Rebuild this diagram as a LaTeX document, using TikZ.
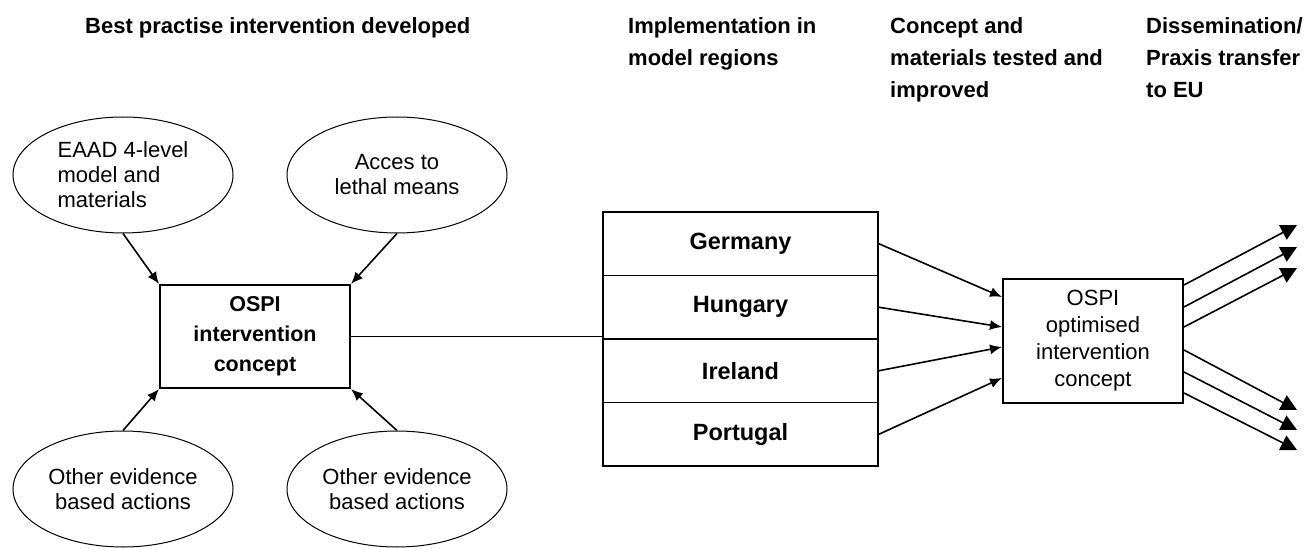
\documentclass[tikz,border=0pt]{standalone}
\usepackage{fontspec}
\setmainfont{Liberation Sans}
\usetikzlibrary{shapes.geometric,arrows.meta}

\tikzset{
  heading/.style={anchor=north west, align=left, inner sep=0pt,
    font=\bfseries\fontsize{22}{32}\selectfont},
  bubble/.style={draw, ellipse, line width=1pt, minimum width=220pt,
    minimum height=116pt, inner sep=0pt, font=\fontsize{22}{25}\selectfont},
  box/.style={draw, line width=2pt, inner sep=0pt},
  country/.style={draw, line width=1.8pt, minimum width=275pt,
    minimum height=63.5pt, inner sep=0pt, font=\bfseries\fontsize{23.5}{28}\selectfont},
  arr/.style={-{Latex[length=12pt,width=10pt]}, line width=1.6pt},
  bigarr/.style={-{Triangle[length=16pt,width=16pt]}, line width=1.6pt},
}

\begin{document}
\begin{tikzpicture}[x=1pt, y=-1pt]
  \useasboundingbox (0,0) rectangle (1304,548);

  \node[heading] (best) at (85,17) {Best practise intervention developed};
  \node[heading] (impl) at (628,17) {Implementation in\\model regions};
  \node[heading] (test) at (890,17) {Concept and\\materials tested and\\improved};
  \node[heading] (diss) at (1146,17) {Dissemination/\\Praxis transfer\\to EU};

  \node[bubble, align=left] (eaad) at (123,175) {EAAD 4-level\\model and\\materials};
  \node[bubble, align=center] (lethal) at (397,175) {Acces to\\lethal means};
  \node[bubble, align=center] (otherl) at (123,489) {Other evidence\\based actions};
  \node[bubble, align=center] (otherr) at (397,489) {Other evidence\\based actions};

  \node[box, minimum width=190pt, minimum height=103pt, align=center,
    font=\bfseries\fontsize{21.5}{30}\selectfont] (ospi) at (255,336.5)
    {OSPI\\intervention\\concept};

  \draw[arr] (eaad.south) -- (ospi.north west);
  \draw[arr] (lethal.south) -- (ospi.north east);
  \draw[arr] (otherl.north) -- (ospi.south west);
  \draw[arr] (otherr.north) -- (ospi.south east);

  \node[country] (ger) at (740.5,243.75) {Germany};
  \node[country] (hun) at (740.5,307.25) {Hungary};
  \node[country] (ire) at (740.5,370.75) {Ireland};
  \node[country] (por) at (740.5,434.25) {Portugal};

  \draw[line width=1.6pt] (ospi.east) -- (ospi.east -| hun.west);

  \node[box, minimum width=180pt, minimum height=124pt, align=center,
    font=\fontsize{22}{27}\selectfont] (opt) at (1093,341)
    {OSPI\\optimised\\intervention\\concept};

  \draw[arr] (ger.east) -- ([yshift=44pt]opt.west);
  \draw[arr] (hun.east) -- ([yshift=14pt]opt.west);
  \draw[arr] (ire.east) -- ([yshift=-6pt]opt.west);
  \draw[arr] (por.east) -- ([yshift=-37pt]opt.west);

  \foreach \i/\s/\y in {1/56/225, 2/34/247, 3/14/268, 4/-9/410, 5/-31/430, 6/-52/450} {
    \coordinate (eu\i) at (1297,\y);
    \draw[bigarr] ([yshift=\s pt]opt.east) -- (eu\i);
  }
\end{tikzpicture}
\end{document}
